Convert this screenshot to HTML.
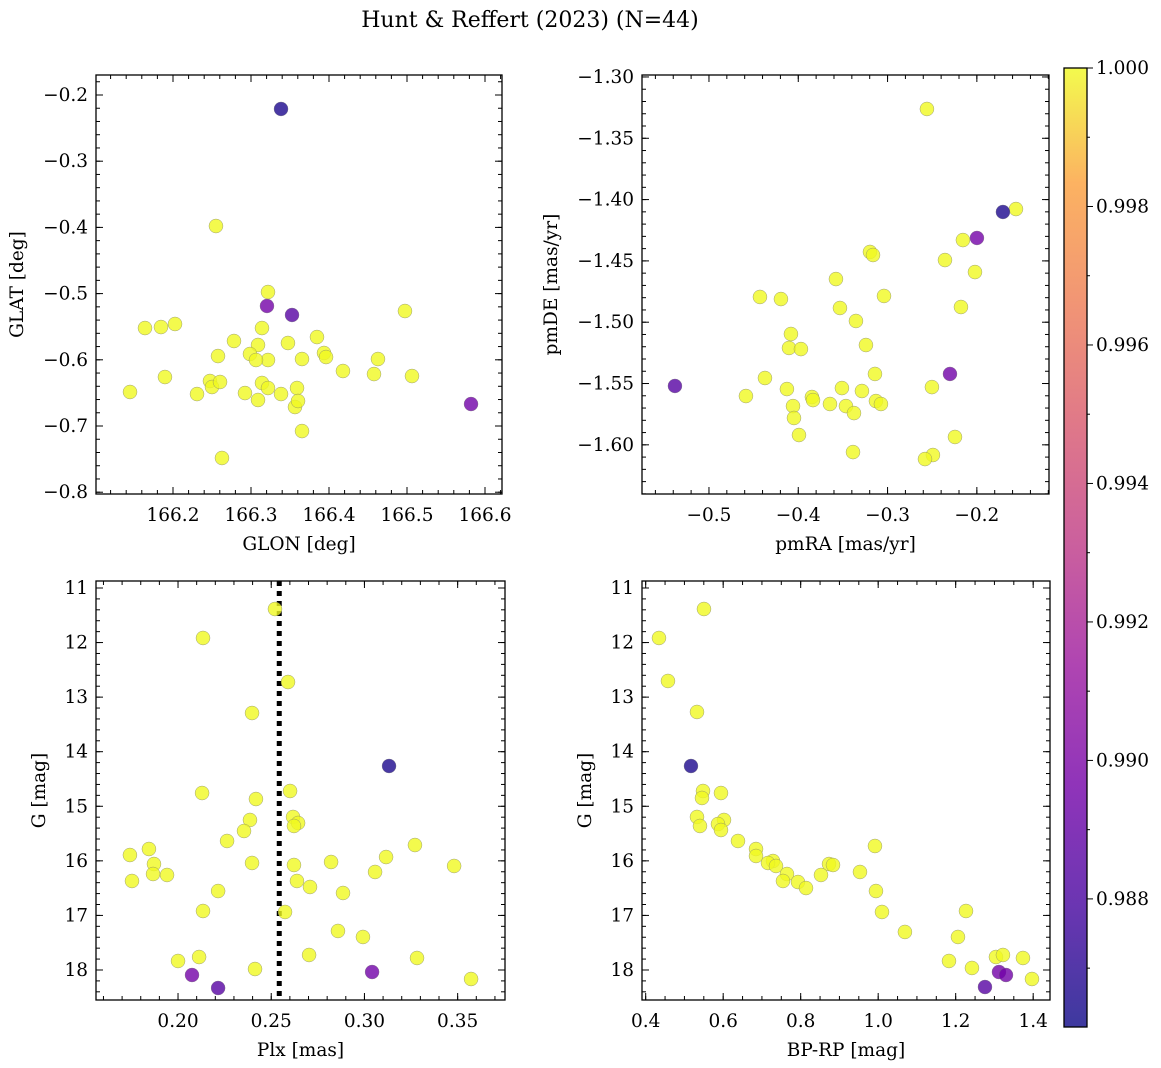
<!DOCTYPE html>
<html><head><meta charset="utf-8"><style>
body{margin:0;background:#fff}
svg{display:block;font-family:"DejaVu Serif","Liberation Serif",serif}
</style></head><body>
<svg id="fig" width="1161" height="1068" viewBox="0 0 1161 1068" xmlns="http://www.w3.org/2000/svg">
<defs>
<linearGradient id="cbgrad" x1="0" y1="1" x2="0" y2="0">
<stop offset="0" stop-color="#0d0887"/><stop offset="0.13" stop-color="#47039f"/><stop offset="0.25" stop-color="#7301a8"/><stop offset="0.38" stop-color="#9c179e"/><stop offset="0.5" stop-color="#bd3786"/><stop offset="0.63" stop-color="#d8576b"/><stop offset="0.75" stop-color="#ed7953"/><stop offset="0.88" stop-color="#fb9f3a"/><stop offset="1" stop-color="#f0f921"/>
</linearGradient>
</defs>
<text x="530" y="27" font-size="22" text-anchor="middle">Hunt &amp; Reffert (2023) (N=44)</text>
</svg>
<script>
// ---- data ----
const glon=[166.3385,166.2551,166.3218,166.3205,166.3526,166.4974,166.1641,166.1846,166.2026,166.2782,166.3141,166.3846,166.3474,166.3090,166.2577,166.2987,166.3218,166.3064,166.3654,166.3936,166.3962,166.4628,166.4179,166.4577,166.5064,166.1897,166.1449,166.2308,166.2474,166.2500,166.2603,166.2923,166.3090,166.3141,166.3218,166.3385,166.3590,166.3564,166.3603,166.3654,166.2628,166.5821];
const glat=[-0.2211,-0.3979,-0.4976,-0.5187,-0.5323,-0.5263,-0.5520,-0.5505,-0.5459,-0.5716,-0.5520,-0.5656,-0.5746,-0.5776,-0.5943,-0.5912,-0.6003,-0.6003,-0.5988,-0.5897,-0.5958,-0.5988,-0.6169,-0.6215,-0.6245,-0.6260,-0.6486,-0.6517,-0.6320,-0.6411,-0.6335,-0.6502,-0.6607,-0.6350,-0.6426,-0.6517,-0.6426,-0.6713,-0.6622,-0.7076,-0.7483,-0.6668];
const prob1=[0.9866,1,1,0.9896,0.9885,1,1,1,1,1,1,1,1,1,1,1,1,1,1,1,1,1,1,1,1,1,1,1,1,1,1,1,1,1,1,1,1,1,1,1,1,0.9895];
const pmra=[-0.2559,-0.1708,-0.1562,-0.1999,-0.2156,-0.2357,-0.2021,-0.3197,-0.3163,-0.3578,-0.3040,-0.4429,-0.4194,-0.3533,-0.2178,-0.3354,-0.4082,-0.4104,-0.3970,-0.3242,-0.5381,-0.4373,-0.2301,-0.3141,-0.4127,-0.3511,-0.2503,-0.4586,-0.3847,-0.3835,-0.3645,-0.3466,-0.4059,-0.3287,-0.3130,-0.3074,-0.3376,-0.4048,-0.3992,-0.3387,-0.2245,-0.2492,-0.2581];
const pmde=[-1.3261,-1.4101,-1.4077,-1.4313,-1.4330,-1.4493,-1.4591,-1.4427,-1.4452,-1.4648,-1.4786,-1.4794,-1.4811,-1.4884,-1.4876,-1.4990,-1.5096,-1.5210,-1.5219,-1.5186,-1.5520,-1.5455,-1.5422,-1.5422,-1.5545,-1.5537,-1.5529,-1.5602,-1.5610,-1.5635,-1.5667,-1.5684,-1.5684,-1.5561,-1.5643,-1.5667,-1.5741,-1.5781,-1.5920,-1.6059,-1.5936,-1.6083,-1.6116];
const prob2=[1,0.9866,1,0.9896,1,1,1,1,1,1,1,1,1,1,1,1,1,1,1,1,0.9885,1,0.9895,1,1,1,1,1,1,1,1,1,1,1,1,1,1,1,1,1,1,1,1];
const plx=[0.2520,0.2134,0.2590,0.2397,0.3132,0.2129,0.2601,0.2418,0.2617,0.2386,0.2644,0.2622,0.2354,0.2263,0.3271,0.1742,0.1844,0.3116,0.1871,0.2397,0.2622,0.2821,0.3481,0.1866,0.1941,0.3057,0.1753,0.2638,0.2708,0.2215,0.2885,0.2134,0.2574,0.2858,0.2992,0.2703,0.2113,0.3282,0.2000,0.2413,0.2075,0.3041,0.2215,0.3572];
const gmag3=[11.385,11.916,12.723,13.291,14.262,14.757,14.720,14.867,15.196,15.251,15.306,15.361,15.453,15.636,15.710,15.893,15.783,15.930,16.058,16.039,16.076,16.021,16.094,16.241,16.259,16.204,16.369,16.369,16.479,16.553,16.589,16.919,16.937,17.285,17.395,17.725,17.762,17.780,17.835,17.982,18.092,18.037,18.330,18.165];
const prob3=[1,1,1,1,0.9866,1,1,1,1,1,1,1,1,1,1,1,1,1,1,1,1,1,1,1,1,1,1,1,1,1,1,1,1,1,1,1,1,1,1,1,0.9896,0.9895,0.9885,1];
const plxLine=[0.2543];
const bprp=[0.4343,0.5504,0.4575,0.5324,0.5169,0.5479,0.5943,0.5453,0.5324,0.6021,0.5401,0.5866,0.5943,0.6382,0.9917,0.6847,0.6847,0.7285,0.7156,0.7363,0.8731,0.8834,0.7646,0.8524,0.9530,0.7543,0.7930,0.8137,0.9943,1.0098,1.2266,1.0690,1.2059,1.1827,1.2420,1.3039,1.3220,1.3736,1.3117,1.3298,1.2756,1.3969];
const gmag4=[11.916,11.385,12.704,13.272,14.262,14.720,14.757,14.848,15.196,15.251,15.361,15.325,15.435,15.636,15.728,15.783,15.911,16.003,16.039,16.094,16.058,16.076,16.241,16.259,16.204,16.369,16.388,16.498,16.553,16.937,16.919,17.303,17.395,17.835,17.963,17.762,17.725,17.780,18.037,18.092,18.312,18.165];
const prob4=[1,1,1,1,0.9866,1,1,1,1,1,1,1,1,1,1,1,1,1,1,1,1,1,1,1,1,1,1,1,1,1,1,1,1,1,1,1,1,1,0.9896,0.9895,0.9885,1];
const cbTicks=[1.000,0.998,0.996,0.994,0.992,0.990,0.988];
const cmin=0.98615, cmax=1.0;

const NS="http://www.w3.org/2000/svg";
const svg=document.getElementById('fig');
const FS=18.5;
function mk(tag,attrs,parent){const e=document.createElementNS(NS,tag);for(const k in attrs)e.setAttribute(k,attrs[k]);(parent||svg).appendChild(e);return e;}
const stops=[[0,[13,8,135]],[0.13,[71,3,159]],[0.25,[115,1,168]],[0.38,[156,23,158]],[0.5,[189,55,134]],[0.63,[216,87,107]],[0.75,[237,121,83]],[0.88,[251,159,58]],[1,[240,249,33]]];
function plasma(v){let t=(v-cmin)/(cmax-cmin);t=Math.max(0,Math.min(1,t));for(let i=1;i<stops.length;i++){if(t<=stops[i][0]){const a=stops[i-1],b=stops[i];const f=(t-a[0])/(b[0]-a[0]);const c=a[1].map((x,j)=>Math.round(x+(b[1][j]-x)*f));return `rgb(${c.join(',')})`;}}return 'rgb(240,249,33)';}
function fmt(v,d){let s=Math.abs(v).toFixed(d);return (v<-1e-9?'\u2212':'')+s;}

function panel(cfg){
  const g=mk('g',{});
  
  
  const sx=v=>cfg.x0+(v-cfg.xd[0])/(cfg.xd[1]-cfg.xd[0])*(cfg.x1-cfg.x0);
  const sy=v=>cfg.y0+(v-cfg.yd[0])/(cfg.yd[1]-cfg.yd[0])*(cfg.y1-cfg.y0);
  function ticks(axis,step,len,major,dec){
    const d=axis==='x'?cfg.xd:cfg.yd;const lo=Math.min(d[0],d[1]),hi=Math.max(d[0],d[1]);
    for(let k=Math.ceil(lo/step-1e-6);k*step<=hi+1e-9;k++){
      const v=k*step;
      if(axis==='x'){const p=sx(v);
        mk('line',{x1:p,x2:p,y1:cfg.y1,y2:cfg.y1-len,stroke:'#000','stroke-width':1},g);
        mk('line',{x1:p,x2:p,y1:cfg.y0,y2:cfg.y0+len,stroke:'#000','stroke-width':1},g);
        if(major){const t=mk('text',{x:p,y:cfg.y1+27,'font-size':FS,'text-anchor':'middle'},g);t.textContent=fmt(v,dec);
          
          }
      }else{const p=sy(v);
        mk('line',{x1:cfg.x0,x2:cfg.x0+len,y1:p,y2:p,stroke:'#000','stroke-width':1},g);
        mk('line',{x1:cfg.x1,x2:cfg.x1-len,y1:p,y2:p,stroke:'#000','stroke-width':1},g);
        if(major){const t=mk('text',{x:cfg.x0-8,y:p+6,'font-size':FS,'text-anchor':'end'},g);t.textContent=fmt(v,dec);
          
          }
      }
    }
  }
  ticks('x',cfg.xmin,4,false);ticks('x',cfg.xmaj,7,true,cfg.xdec);
  ticks('y',cfg.ymin,4,false);ticks('y',cfg.ymaj,7,true,cfg.ydec);
  if(cfg.vline){const p=sx(cfg.vline[0]);const l=mk('line',{x1:p,x2:p,y1:cfg.y0,y2:cfg.y1,stroke:'#000','stroke-width':5,'stroke-dasharray':'5,5'},g);
    
    }
  const idx=cfg.xs.map((_,i)=>i).sort((a,b)=>cfg.cs[b]-cfg.cs[a]);
  idx.forEach(i=>{const c=mk('circle',{cx:sx(cfg.xs[i]),cy:sy(cfg.ys[i]),r:7,fill:plasma(cfg.cs[i]),'fill-opacity':0.8,stroke:'#777','stroke-width':0.5,'stroke-opacity':0.7},g);
    
    });
  const fr=mk('rect',{x:cfg.x0,y:cfg.y0,width:cfg.x1-cfg.x0,height:cfg.y1-cfg.y0,fill:'none',stroke:'#000','stroke-width':1.3},g);
  
  
  const xl=mk('text',{x:(cfg.x0+cfg.x1)/2,y:cfg.y1+56,'font-size':FS,'text-anchor':'middle'},g);xl.textContent=cfg.xlabel;
  
  
  const yx=cfg.ylx,yy=(cfg.y0+cfg.y1)/2;
  const yl=mk('text',{x:yx,y:yy,'font-size':FS,'text-anchor':'middle',transform:`rotate(-90 ${yx} ${yy})`},g);yl.textContent=cfg.ylabel;
  
  
}
panel({name:'glon-glat-panel',x0:96,x1:502,y0:75,y1:494,xd:[166.1013,166.6218],yd:[-0.1698,-0.8027],xmaj:0.1,xmin:0.02,ymaj:0.1,ymin:0.02,xdec:1,ydec:1,xs:glon,ys:glat,cs:prob1,xlabel:'GLON [deg]',ylabel:'GLAT [deg]',ylx:23});
panel({name:'pm-panel',x0:642,x1:1049,y0:75,y1:494,xd:[-0.575,-0.1192],yd:[-1.2984,-1.6401],xmaj:0.1,xmin:0.02,ymaj:0.05,ymin:0.01,xdec:1,ydec:2,xs:pmra,ys:pmde,cs:prob2,xlabel:'pmRA [mas/yr]',ylabel:'pmDE [mas/yr]',ylx:557});
panel({name:'plx-g-panel',x0:96,x1:505,y0:581,y1:1000,xd:[0.156,0.3754],yd:[10.872,18.55],xmaj:0.05,xmin:0.01,ymaj:1,ymin:0.2,xdec:2,ydec:0,xs:plx,ys:gmag3,cs:prob3,xlabel:'Plx [mas]',ylabel:'G [mag]',ylx:45,vline:plxLine});
panel({name:'cmd-panel',x0:642,x1:1050,y0:581,y1:1000,xd:[0.3905,1.4434],yd:[10.872,18.55],xmaj:0.2,xmin:0.05,ymaj:1,ymin:0.2,xdec:1,ydec:0,xs:bprp,ys:gmag4,cs:prob4,xlabel:'BP-RP [mag]',ylabel:'G [mag]',ylx:591});
const cb=mk('g',{});


const cy0=68,cy1=1027,cx0=1064,cx1=1087;
mk('rect',{x:cx0,y:cy0,width:cx1-cx0,height:cy1-cy0,fill:'url(#cbgrad)','fill-opacity':0.8},cb);
mk('rect',{x:cx0,y:cy0,width:cx1-cx0,height:cy1-cy0,fill:'none',stroke:'#000','stroke-width':1.3},cb);
const cby=v=>cy1-(v-cmin)/(cmax-cmin)*(cy1-cy0);
for(let k=0;k<=14;k++){const v=0.986+k*0.001;if(v<cmin)continue;const p=cby(v);mk('line',{x1:cx1,x2:cx1+(k%2===0?6:3),y1:p,y2:p,stroke:'#000','stroke-width':1},cb);}
cbTicks.forEach(v=>{const t=mk('text',{x:1096,y:cby(v)+6,'font-size':FS},cb);t.textContent=v.toFixed(3);
  
  });
</script>
</body></html>
